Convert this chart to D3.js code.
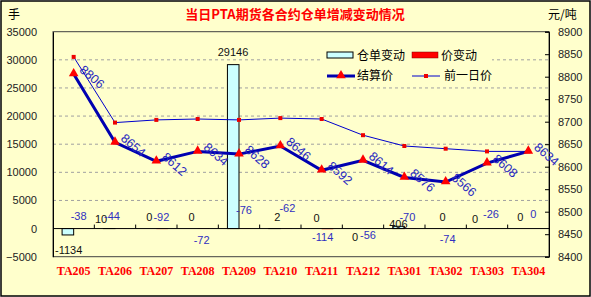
<!DOCTYPE html>
<html><head><meta charset="utf-8">
<script src="https://cdn.jsdelivr.net/npm/d3@7"></script>
<style>
html,body{margin:0;padding:0;background:#fff;}
svg{display:block;}
</style></head>
<body>
<svg id="chart" width="591" height="297"></svg>
<script>
// ---- data ----
const categories = ['TA205','TA206','TA207','TA208','TA209','TA210','TA211','TA212','TA301','TA302','TA303','TA304'];
const warrantChange = [-1134, 10, 0, 0, 29146, 2, 0, 0, 406, 0, 0, 0];
const priceChange = [-38, -44, -92, -72, -76, -62, -114, -56, -70, -74, -26, 0];
const settlePrice = [8806, 8654, 8612, 8634, 8628, 8646, 8592, 8614, 8576, 8566, 8608, 8634];
const prevPrice = [8844, 8698, 8704, 8706, 8704, 8708, 8706, 8670, 8646, 8640, 8634, 8634];
const leftTicks = [-5000, 0, 5000, 10000, 15000, 20000, 25000, 30000, 35000];
const rightTicks = [8400, 8450, 8500, 8550, 8600, 8650, 8700, 8750, 8800, 8850, 8900];

// ---- label layout (hand placed in the original) ----
const warrantLabelDx = [-5, -14, -7, -6, -6, -3, -5, -8, -6, -3, -12, -8];
const warrantLabelDy = [15, -9, -11, -11, -12, -11, -10, 9, -2, -11, -9, -11];
const priceLabelDx = [5, -3, 5, 4, 5, 7, 1, 5, 3, 2, 4, 5];
const priceLabelDy = [-12, -12, -11, 12, -18, -20, 9, 7, -11, 11, -14, -14];

const svg = d3.select('#chart');
const W = 591, H = 297;
const m = {left: 53, right: 549, top: 31.7, bottom: 256.7};
const BG = '#ffffcc';
const numFont = '"Liberation Sans", Arial, sans-serif';
const cjkFont = '"Noto Sans CJK SC", sans-serif';

svg.append('rect').attr('x', 1).attr('y', 1).attr('width', W - 2).attr('height', H - 2)
  .attr('fill', BG).attr('stroke', '#000').attr('stroke-width', 1.5);

const x = d3.scaleBand().domain(categories).range([m.left, m.right]).paddingInner(0).paddingOuter(0);
const yL = d3.scaleLinear().domain([-5000, 35000]).range([m.bottom, m.top]);
const yR = d3.scaleLinear().domain([8400, 8900]).range([m.bottom, m.top]);
const cx = c => x(c) + x.bandwidth() / 2;

// gridlines
svg.append('g').selectAll('line').data(leftTicks.filter(t => t > 0 && t < 35000)).join('line')
  .attr('x1', m.left).attr('x2', m.right).attr('y1', d => yL(d)).attr('y2', d => yL(d))
  .attr('stroke', '#a0a0a0').attr('stroke-dasharray', '3,3').attr('stroke-width', 1);

// plot border
svg.append('rect').attr('x', m.left).attr('y', m.top).attr('width', m.right - m.left).attr('height', m.bottom - m.top)
  .attr('fill', 'none').attr('stroke', '#404040').attr('stroke-width', 1);

// left axis labels
const axL = d3.axisLeft(yL).tickValues(leftTicks).tickSize(0).tickPadding(16).tickFormat(d3.format('d'));
const gL = svg.append('g').attr('transform', `translate(${m.left},0)`).call(axL);
gL.select('.domain').attr('stroke', '#000');
gL.selectAll('text').attr('font-family', numFont).attr('font-size', 11).attr('fill', '#222');

// right axis
const axR = d3.axisLeft(yR).tickValues(rightTicks).tickSize(4).tickFormat(d3.format('d'));
const gR = svg.append('g').attr('transform', `translate(${m.right},0)`).call(axR);
gR.select('.domain').attr('stroke', '#000');
gR.selectAll('.tick line').attr('stroke', '#000');
gR.selectAll('text').attr('font-family', numFont).attr('font-size', 11).attr('fill', '#222')
  .attr('x', 9).attr('text-anchor', 'start');

// bars
const bw = x.bandwidth() * 0.28;
svg.append('g').selectAll('rect').data(categories).join('rect')
  .attr('x', d => cx(d) - bw).attr('width', bw)
  .attr('y', (d, i) => Math.min(yL(warrantChange[i]), yL(0)))
  .attr('height', (d, i) => Math.abs(yL(warrantChange[i]) - yL(0)))
  .attr('fill', '#ccffff').attr('stroke', '#000').attr('stroke-width', 1);
svg.append('g').selectAll('rect').data(categories).join('rect')
  .attr('x', d => cx(d)).attr('width', bw)
  .attr('y', (d, i) => Math.min(yL(priceChange[i]), yL(0)))
  .attr('height', (d, i) => Math.abs(yL(priceChange[i]) - yL(0)))
  .attr('fill', '#ff0000');

// zero axis with ticks
svg.append('line').attr('x1', m.left).attr('x2', m.right).attr('y1', yL(0)).attr('y2', yL(0))
  .attr('stroke', '#000').attr('stroke-width', 1);
svg.append('g').selectAll('line').data(d3.range(1, categories.length)).join('line')
  .attr('x1', i => m.left + i * x.step()).attr('x2', i => m.left + i * x.step())
  .attr('y1', yL(0)).attr('y2', yL(0) - 4).attr('stroke', '#000');

// category labels
svg.append('g').selectAll('text').data(categories).join('text')
  .attr('x', d => cx(d)).attr('y', 275).attr('text-anchor', 'middle')
  .attr('font-family', '"Liberation Serif", "DejaVu Serif", serif').attr('font-weight', 'bold')
  .attr('font-size', 12).attr('fill', '#ff0000').text(d => d);

// lines
const lineS = d3.line().x((d, i) => cx(categories[i])).y(d => yR(d));
svg.append('path').datum(prevPrice).attr('d', lineS).attr('fill', 'none').attr('stroke', '#0000cc').attr('stroke-width', 1);
svg.append('path').datum(settlePrice).attr('d', lineS).attr('fill', 'none').attr('stroke', '#0000b0').attr('stroke-width', 3);

svg.append('g').selectAll('rect').data(prevPrice).join('rect')
  .attr('x', (d, i) => cx(categories[i]) - 2).attr('y', d => yR(d) - 2)
  .attr('width', 4).attr('height', 4).attr('fill', '#ee0000');
const tri = d3.symbol().type(d3.symbolTriangle).size(40);
svg.append('g').selectAll('path').data(settlePrice).join('path')
  .attr('d', tri).attr('transform', (d, i) => `translate(${cx(categories[i])},${yR(d) - 0.5})`)
  .attr('fill', '#ff0000');

// settlement labels (rotated)
svg.append('g').selectAll('text').data(settlePrice).join('text')
  .attr('transform', (d, i) => `translate(${cx(categories[i]) + 5},${yR(d) - 3}) rotate(41)`)
  .attr('font-family', numFont).attr('font-size', 12.5).attr('fill', '#2828c0')
  .text(d => d);

// change labels
svg.append('g').selectAll('text').data(warrantChange).join('text')
  .attr('x', (d, i) => cx(categories[i]) + warrantLabelDx[i])
  .attr('y', (d, i) => yL(d) + warrantLabelDy[i]).attr('dy', '0.35em')
  .attr('text-anchor', 'middle').attr('font-family', numFont).attr('font-size', 11).attr('fill', '#111')
  .text(d => d);
svg.append('g').selectAll('text').data(priceChange).join('text')
  .attr('x', (d, i) => cx(categories[i]) + priceLabelDx[i])
  .attr('y', (d, i) => yL(0) + priceLabelDy[i]).attr('dy', '0.35em')
  .attr('text-anchor', 'middle').attr('font-family', numFont).attr('font-size', 11).attr('fill', '#3030c0')
  .text(d => d);

// title and units
svg.append('text').attr('x', 295).attr('y', 19).attr('text-anchor', 'middle')
  .attr('font-family', cjkFont).attr('font-weight', 'bold').attr('font-size', 13).attr('fill', '#ff0000')
  .text('当日PTA期货各合约仓单增减变动情况');
svg.append('text').attr('x', 8).attr('y', 19).attr('font-family', cjkFont).attr('font-size', 12).attr('fill', '#000').text('手');
svg.append('text').attr('x', 548).attr('y', 19).attr('font-family', cjkFont).attr('font-size', 12).attr('fill', '#000').text('元/吨');

// legend
const lg = svg.append('g');
lg.append('rect').attr('x', 322).attr('y', 45).attr('width', 170).attr('height', 40).attr('fill', BG);
lg.append('rect').attr('x', 327).attr('y', 52).attr('width', 26).attr('height', 6).attr('fill', '#ccffff').attr('stroke', '#000');
lg.append('text').attr('x', 357).attr('y', 59.5).attr('font-family', cjkFont).attr('font-size', 12).text('仓单变动');
lg.append('rect').attr('x', 412).attr('y', 52).attr('width', 26).attr('height', 6).attr('fill', '#ff0000').attr('stroke', '#800000').attr('stroke-width', 0.5);
lg.append('text').attr('x', 441).attr('y', 59.5).attr('font-family', cjkFont).attr('font-size', 12).text('价变动');
lg.append('line').attr('x1', 327).attr('x2', 355).attr('y1', 76).attr('y2', 76).attr('stroke', '#0000b0').attr('stroke-width', 3);
lg.append('path').attr('d', tri).attr('transform', 'translate(341,75.5)').attr('fill', '#ff0000');
lg.append('text').attr('x', 357).attr('y', 80).attr('font-family', cjkFont).attr('font-size', 12).text('结算价');
lg.append('line').attr('x1', 412).attr('x2', 440).attr('y1', 76).attr('y2', 76).attr('stroke', '#0000cc').attr('stroke-width', 1);
lg.append('rect').attr('x', 424).attr('y', 74).attr('width', 4).attr('height', 4).attr('fill', '#ee0000');
lg.append('text').attr('x', 444).attr('y', 80).attr('font-family', cjkFont).attr('font-size', 12).text('前一日价');
</script>
</body></html>
